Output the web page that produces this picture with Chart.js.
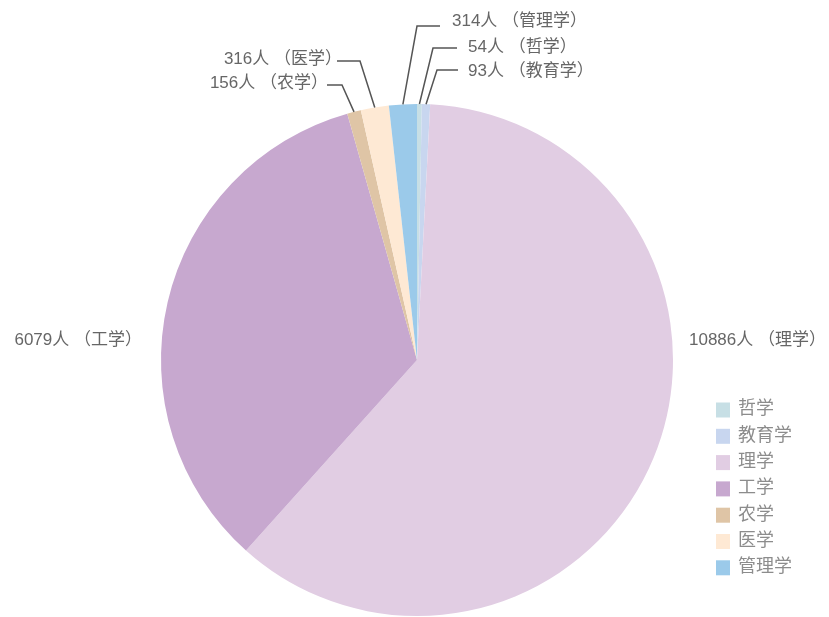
<!DOCTYPE html>
<html>
<head>
<meta charset="utf-8">
<script src="https://cdn.jsdelivr.net/npm/chart.js@4"></script>
<style>
  html, body { margin: 0; padding: 0; background: #fff; }
  #wrap { width: 829px; height: 617px; position: relative; }
</style>
</head>
<body>
<div id="wrap"><canvas id="myChart" width="829" height="617"></canvas></div>
<script>
// Pie of people per discipline

const categories = ["哲学", "教育学", "理学", "工学", "农学", "医学", "管理学"];
const values = [54, 93, 10886, 6079, 156, 316, 314];
const colors = [
  "#c7dfe5", // 哲学
  "#c8d6ef", // 教育学
  "#e1cde3", // 理学
  "#c7a8cf", // 工学
  "#dfc5a6", // 农学
  "#fee9d4", // 医学
  "#9bcaea", // 管理学
];

const LABEL_FONT = "17px 'Liberation Sans', 'Noto Sans CJK SC', sans-serif";
const LEGEND_FONT = "18px 'Liberation Sans', 'Noto Sans CJK SC', sans-serif";

// outside label placement: leader line elbow/end, text anchor x,y and side
const labelLayout = [
  { line: [[433, 48], [457, 48]], text: [468, 47], side: "right" },   // 哲学
  { line: [[437, 70], [458, 70]], text: [468, 71], side: "right" },   // 教育学
  { text: [689, 340], side: "right" },                                // 理学
  { text: [142, 340], side: "left" },                                 // 工学
  { line: [[342, 85], [327, 85]], text: [328, 83], side: "left" },    // 农学
  { line: [[360, 61], [337, 61]], text: [342, 59], side: "left" },    // 医学
  { line: [[417, 26], [440, 26]], text: [452, 21], side: "right" },   // 管理学
];

const labelPlugin = {
  id: "pieLabels",
  afterDatasetsDraw(chart) {
    const ctx = chart.ctx;
    const arcs = chart.getDatasetMeta(0).data;
    ctx.save();
    ctx.font = LABEL_FONT;
    ctx.textBaseline = "middle";
    arcs.forEach((arc, i) => {
      const lay = labelLayout[i];
      if (lay.line) {
        const mid = (arc.startAngle + arc.endAngle) / 2;
        const sx = arc.x + Math.cos(mid) * arc.outerRadius;
        const sy = arc.y + Math.sin(mid) * arc.outerRadius;
        ctx.strokeStyle = "#555";
        ctx.lineWidth = 1.5;
        ctx.beginPath();
        ctx.moveTo(sx, sy);
        ctx.lineTo(lay.line[0][0], lay.line[0][1]);
        ctx.lineTo(lay.line[1][0], lay.line[1][1]);
        ctx.stroke();
      }
      ctx.textAlign = lay.side === "right" ? "left" : "right";
      ctx.fillStyle = "#666";
      ctx.fillText(values[i] + "人 （" + categories[i] + "）", lay.text[0], lay.text[1]);
    });
    ctx.restore();
  },
  afterDraw(chart) {
    // legend, bottom right
    const ctx = chart.ctx;
    ctx.save();
    ctx.font = LEGEND_FONT;
    ctx.textBaseline = "middle";
    ctx.textAlign = "left";
    categories.forEach((c, i) => {
      const y = 409.5 + i * 26.3;
      ctx.fillStyle = colors[i];
      ctx.fillRect(716, y - 7, 14, 15);
      ctx.fillStyle = "#8c8c8c";
      ctx.fillText(c, 738, y);
    });
    ctx.restore();
  },
};

const chart = document.getElementById("myChart");

const data = {
  labels: categories,
  datasets: [
    {
      data: values,
      backgroundColor: colors,
      borderWidth: 0,
    },
  ],
};

const config = {
  type: "pie",
  data: data,
  options: {
    responsive: false,
    animation: false,
    layout: {
      padding: { top: 104, bottom: 1, left: 161, right: 156 },
    },
    plugins: {
      legend: { display: false },
      tooltip: { enabled: false },
    },
  },
  plugins: [labelPlugin],
};

new Chart(chart, config);
</script>
</body>
</html>
